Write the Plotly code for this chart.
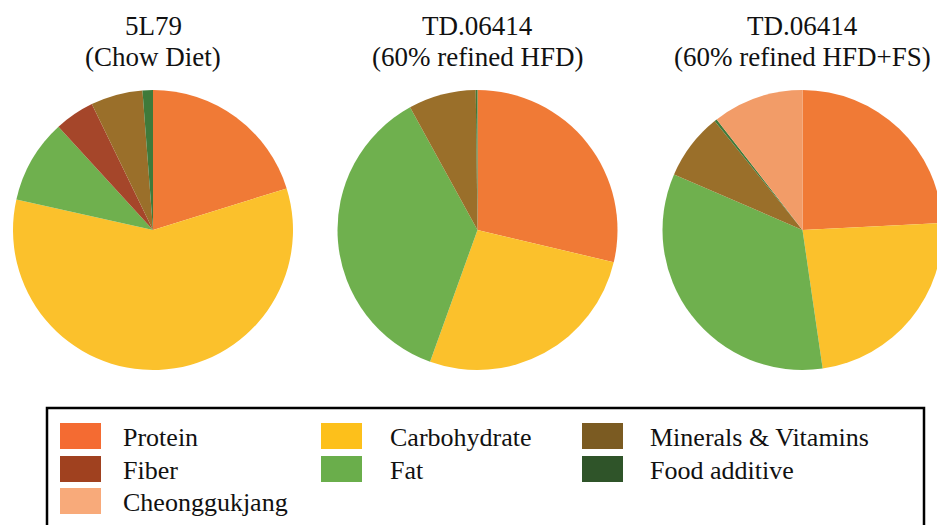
import plotly.graph_objects as go

# ---- data ----
categories = ["Protein", "Carbohydrate", "Fat", "Fiber",
              "Minerals & Vitamins", "Food additive", "Cheonggukjang"]
chow_diet = [20.2, 58.3, 9.7, 4.6, 6.0, 1.2, 0.0]
hfd = [28.7, 26.8, 36.5, 0.0, 7.8, 0.2, 0.0]
hfd_fs = [24.2, 23.5, 33.8, 0.0, 7.7, 0.3, 10.5]

titles_line1 = ["5L79", "TD.06414", "TD.06414"]
titles_line2 = ["(Chow Diet)", "(60% refined HFD)", "(60% refined HFD+FS)"]

legend_order = ["Protein", "Carbohydrate", "Minerals & Vitamins",
                "Fiber", "Fat", "Food additive", "Cheonggukjang"]

# ---- styles ----
slice_colors = {
    "Protein": "#F07A36",
    "Carbohydrate": "#FBC12C",
    "Fat": "#6FB04E",
    "Fiber": "#A5462A",
    "Minerals & Vitamins": "#9A6F2A",
    "Food additive": "#3F7A3A",
    "Cheonggukjang": "#F29C68",
}
swatch_colors = {
    "Protein": "#F46B32",
    "Carbohydrate": "#FDC01B",
    "Fat": "#6AAE4B",
    "Fiber": "#A0411F",
    "Minerals & Vitamins": "#7B5B22",
    "Food additive": "#2F5429",
    "Cheonggukjang": "#F8AA7A",
}

W, H = 945, 525
OFF = 8  # page body margin
FONT = "'Liberation Serif', 'Times New Roman', Times, 'DejaVu Serif', serif"


def px(x):
    return (x - OFF) / W


def py(y):
    return 1 - (y - OFF) / H


pie_centers = [153, 477.5, 802.5]
pie_cy = 230
R = 140

fig = go.Figure()
for series, cx in zip([chow_diet, hfd, hfd_fs], pie_centers):
    fig.add_trace(go.Pie(
        labels=categories,
        values=series,
        sort=False,
        direction="clockwise",
        rotation=0,
        textinfo="none",
        hoverinfo="label+percent",
        marker=dict(colors=[slice_colors[c] for c in categories],
                    line=dict(width=0)),
        domain=dict(x=[px(cx - R), px(cx + R)], y=[py(pie_cy + R), py(pie_cy - R)]),
        showlegend=False,
    ))

annotations = []
for t1, t2, cx in zip(titles_line1, titles_line2, pie_centers):
    annotations.append(dict(text=t1, x=px(cx), y=py(26), xref="paper", yref="paper",
                            xanchor="center", yanchor="middle", showarrow=False,
                            font=dict(family=FONT, size=27, color="#111")))
    annotations.append(dict(text=t2, x=px(cx), y=py(57), xref="paper", yref="paper",
                            xanchor="center", yanchor="middle", showarrow=False,
                            font=dict(family=FONT, size=27, color="#111")))

shapes = []
# legend box
shapes.append(dict(type="rect", xref="paper", yref="paper",
                   x0=px(47), x1=px(924), y0=py(545), y1=py(408),
                   line=dict(color="#000", width=2.5), fillcolor="rgba(0,0,0,0)"))

sw_x = [60, 321, 582]
txt_x = [121, 388, 648]
row_y = [436, 469, 501]
for i, name in enumerate(legend_order):
    r, c = divmod(i, 3)
    shapes.append(dict(type="rect", xref="paper", yref="paper",
                       x0=px(sw_x[c]), x1=px(sw_x[c] + 41),
                       y0=py(row_y[r] + 13), y1=py(row_y[r] - 13),
                       line=dict(width=0), fillcolor=swatch_colors[name]))
    annotations.append(dict(text=name, x=px(txt_x[c]), y=py(row_y[r] + 1),
                            xref="paper", yref="paper", xanchor="left", yanchor="middle",
                            showarrow=False,
                            font=dict(family=FONT, size=26, color="#111")))

fig.update_layout(
    width=W, height=H,
    margin=dict(l=0, r=0, t=0, b=0),
    paper_bgcolor="white",
    plot_bgcolor="white",
    font=dict(family=FONT),
    annotations=annotations,
    shapes=shapes,
)

fig.write_html("out.html")
